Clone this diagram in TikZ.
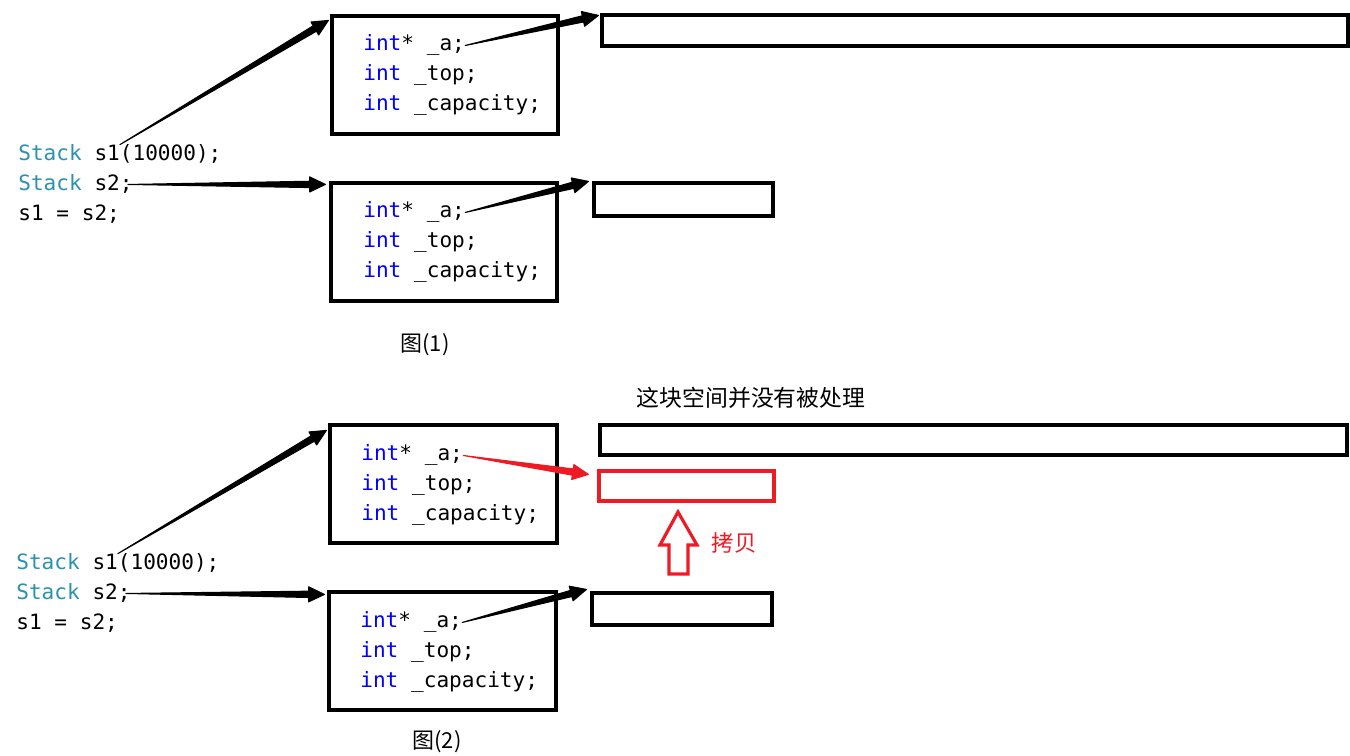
\documentclass[tikz,border=0pt]{standalone}
\usepackage{fontspec}
\setmonofont{DejaVu Sans Mono}
\newfontfamily\cjk{Noto Sans CJK SC}
\usetikzlibrary{calc, fit}

\definecolor{kwblue}{RGB}{0,0,255}
\definecolor{typeteal}{RGB}{43,145,175}
\definecolor{copyred}{RGB}{237,28,36}

\newcommand{\kw}[1]{\textcolor{kwblue}{#1}}
\newcommand{\ty}[1]{\textcolor{typeteal}{#1}}

\tikzset{
    membox/.style={
        draw=black,
        line width=1.8pt,
        inner sep=0pt
    },
    code/.style={
        font=\ttfamily\fontsize{12pt}{14pt}\selectfont,
        anchor=base west,
        inner sep=0pt
    },
    caption/.style={
        font=\cjk\fontsize{12.5pt}{15pt}\selectfont
    },
    % tapered pointer arrow, filled
    ptr/.style={
        fill=black,
        draw=black,
        line width=0.6pt,
        line join=round,
        to path={
            let \p1=($(\tikztotarget)!9pt!(\tikztostart)$) in
            -- ($(\p1)!1.8pt!90:(\tikztostart)$)
            -- ($(\p1)!4.3pt!90:(\tikztostart)$)
            -- (\tikztotarget)
            -- ($(\p1)!4.3pt!-90:(\tikztostart)$)
            -- ($(\p1)!1.8pt!-90:(\tikztostart)$)
            -- cycle
        }
    },
    redptr/.style={ptr, fill=copyred, draw=copyred}
}

\begin{document}
\begin{tikzpicture}[x=0.02cm, y=-0.02cm]
\useasboundingbox (0,0) rectangle (1350,756);

% ---- figure (1) ----
\node (s1a) [code] at (18,161) {\ty{Stack} s1(10000);};
\node (s2a) [code] at (18,191) {\ty{Stack} s2;};
\node (asga) [code] at (18,221) {s1 = s2;};

\node (objA1) [membox, fit={(332,16) (558,134)}] {};
\node (pa1) [code] at (363,51) {\kw{int}* \_a;};
\node (ta1) [code] at (363,81) {\kw{int} \_top;};
\node (ca1) [code] at (363,111) {\kw{int} \_capacity;};

\node (objB1) [membox, fit={(331,183) (557,301)}] {};
\node (pb1) [code] at (363,218) {\kw{int}* \_a;};
\node (tb1) [code] at (363,248) {\kw{int} \_top;};
\node (cb1) [code] at (363,278) {\kw{int} \_capacity;};

\node (buf1) [membox, fit={(602,15) (1348,46)}] {};
\node (buf2) [membox, fit={(594,183) (773,216)}] {};

\node (cap1) [caption] at (425,345) {图(1)};

\fill[ptr] ($(s1a.north west)!0.5!(s1a.north east)$) to ([xshift=-0.04cm,yshift=-0.12cm]objA1.north west);
\fill[ptr] ([xshift=-0.1cm]s2a.east) to ([xshift=-0.08cm,yshift=-0.06cm]objB1.north west);
\fill[ptr] (pa1.east) to ([xshift=-0.04cm,yshift=-0.04cm]buf1.north west);
\fill[ptr] (pb1.east) to ([xshift=-0.08cm]buf2.north west);

% ---- figure (2) ----
\node (s1b) [code] at (16,570) {\ty{Stack} s1(10000);};
\node (s2b) [code] at (16,600) {\ty{Stack} s2;};
\node (asgb) [code] at (16,630) {s1 = s2;};

\node (objA2) [membox, fit={(330,425) (557,543)}] {};
\node (pa2) [code] at (361,461) {\kw{int}* \_a;};
\node (ta2) [code] at (361,491) {\kw{int} \_top;};
\node (ca2) [code] at (361,521) {\kw{int} \_capacity;};

\node (objB2) [membox, fit={(329,592) (556,710)}] {};
\node (pb2) [code] at (360,628) {\kw{int}* \_a;};
\node (tb2) [code] at (360,658) {\kw{int} \_top;};
\node (cb2) [code] at (360,688) {\kw{int} \_capacity;};

\node (note) [font=\cjk\fontsize{13pt}{16pt}\selectfont] at (751,398) {这块空间并没有被处理};
\node (buf3) [membox, fit={(600,425) (1347,455)}] {};
\node (copybuf) [membox, draw=copyred, fit={(599,471) (774,501)}] {};
\node (buf4) [membox, fit={(592,593) (772,625)}] {};

% hollow copy arrow
\draw[copyred, line width=1.8pt, line join=miter]
    (678,512) -- (697,545) -- (688,545) -- (688,574)
    -- (669,574) -- (669,545) -- (660,545) -- cycle;
\node (copylbl) [font=\cjk\fontsize{12.75pt}{15pt}\selectfont, text=copyred] at (734,543) {拷贝};

\node (cap2) [caption] at (437,742) {图(2)};

\fill[ptr] ($(s1b.north west)!0.5!(s1b.north east)$) to ([xshift=-0.04cm,yshift=-0.14cm]objA2.north west);
\fill[ptr] ([xshift=-0.1cm]s2b.east) to ([xshift=-0.06cm,yshift=-0.08cm]objB2.north west);
\fill[redptr] (pa2.east) to ([xshift=-0.18cm,yshift=-0.1cm]copybuf.north west);
\fill[ptr] (pb2.east) to ([xshift=-0.08cm,yshift=0.04cm]buf4.north west);

\end{tikzpicture}
\end{document}
